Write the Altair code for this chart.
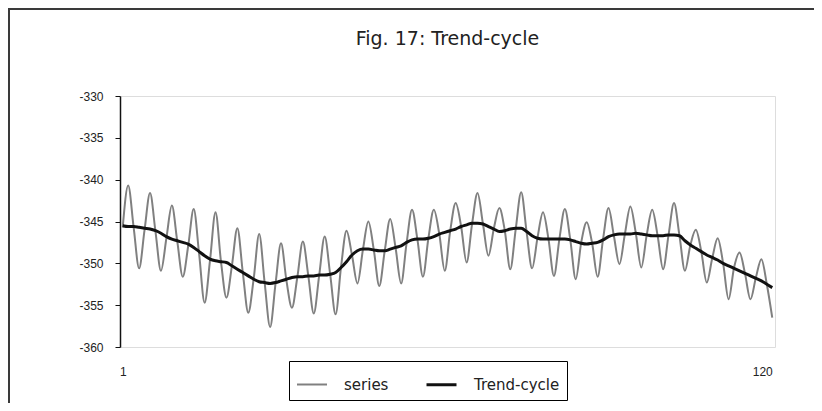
import altair as alt
import pandas as pd

t = list(range(1, 121))

series = [
    -345.7, -340.7, -345.7, -350.6, -346.0, -341.6, -346.2, -350.9,
    -347.0, -343.1, -347.4, -351.6, -347.9, -343.5, -348.9, -354.7,
    -349.6, -343.9, -349.8, -354.1, -350.3, -345.8, -351.1, -355.9,
    -351.8, -346.5, -352.3, -357.6, -352.4, -347.6, -352.1, -355.3,
    -351.6, -347.4, -351.5, -356.0, -351.4, -346.8, -351.3, -356.1,
    -350.4, -346.1, -349.0, -352.4, -348.4, -345.0, -348.4, -352.7,
    -348.5, -344.7, -348.2, -352.4, -347.6, -343.6, -347.2, -351.6,
    -347.0, -343.6, -346.5, -350.9, -346.1, -342.8, -345.6, -349.9,
    -345.3, -341.6, -345.3, -349.1, -345.8, -343.4, -346.1, -350.7,
    -345.9, -341.5, -346.3, -350.6, -346.9, -343.9, -347.1, -351.5,
    -347.1, -343.5, -347.2, -351.9, -347.5, -345.1, -347.6, -351.6,
    -347.1, -343.4, -346.8, -350.1, -346.5, -343.2, -346.4, -350.5,
    -346.6, -343.6, -346.7, -350.7, -346.6, -342.8, -346.7, -350.9,
    -347.8, -346.0, -348.6, -352.3, -349.4, -347.0, -350.0, -354.3,
    -350.5, -348.7, -351.2, -354.3, -351.7, -349.5, -352.5, -356.5,
]

trend = [
    -345.5, -345.6, -345.6, -345.7, -345.8, -345.9, -346.1, -346.4,
    -346.8, -347.1, -347.3, -347.5, -347.7, -348.1, -348.6, -349.1,
    -349.5, -349.7, -349.8, -349.9, -350.3, -350.7, -351.1, -351.5,
    -351.9, -352.2, -352.3, -352.4, -352.3, -352.1, -351.9, -351.7,
    -351.6, -351.6, -351.5, -351.5, -351.4, -351.4, -351.3, -351.1,
    -350.5, -349.8, -349.0, -348.5, -348.3, -348.3, -348.4, -348.5,
    -348.5, -348.3, -348.1, -347.9, -347.5, -347.2, -347.1, -347.1,
    -347.0, -346.8, -346.5, -346.3, -346.1, -345.9, -345.6, -345.4,
    -345.2, -345.2, -345.3, -345.6, -345.9, -346.2, -346.1, -345.9,
    -345.8, -345.8, -346.2, -346.7, -347.0, -347.1, -347.1, -347.1,
    -347.1, -347.1, -347.2, -347.4, -347.6, -347.7, -347.6, -347.5,
    -347.2, -346.8, -346.6, -346.5, -346.5, -346.5, -346.4, -346.5,
    -346.6, -346.7, -346.7, -346.7, -346.6, -346.6, -346.7, -347.3,
    -347.8, -348.2, -348.6, -349.0, -349.3, -349.6, -350.0, -350.3,
    -350.6, -350.9, -351.2, -351.5, -351.8, -352.1, -352.5, -352.9,
]

names = ["series", "Trend-cycle"]
x_labels = [1, 120]
y_ticks = [-360, -355, -350, -345, -340, -335, -330]

df = pd.DataFrame({
    "t": t + t,
    "value": series + trend,
    "name": [names[0]] * len(t) + [names[1]] * len(t),
})

legend = alt.Legend(
    orient="none", legendX=169, legendY=265, direction="horizontal",
    title=None, symbolType="stroke", symbolSize=900,
    labelFont="DejaVu Sans", labelFontSize=15, labelColor="#222222",
    strokeColor="#000000", padding=7, columnPadding=31, labelOffset=16,
)

x_enc = alt.X(
    "t:Q",
    scale=alt.Scale(domain=[0.5, 120.5], nice=False, zero=False),
    axis=alt.Axis(
        values=x_labels, title=None, grid=False, domain=False, ticks=False,
        labelPadding=19, labelFont="Liberation Sans", labelFontSize=12,
        labelColor="#222222",
        labelAlign={"condition": {"test": "datum.value == 120", "value": "right"}, "value": "center"},
    ),
)
y_enc = alt.Y(
    "value:Q",
    scale=alt.Scale(domain=[-360, -330], nice=False, zero=False),
    axis=alt.Axis(
        values=y_ticks, title=None, grid=False, tickSize=5, tickColor="#111111",
        domainColor="#111111", domainWidth=1.5, labelPadding=12,
        labelFont="Liberation Sans", labelFontSize=12, labelColor="#222222",
        labelExpr="toString(datum.value)",
    ),
)
color_enc = alt.Color(
    "name:N",
    scale=alt.Scale(domain=names, range=["#808080", "#111111"]),
    legend=legend,
)
width_enc = alt.StrokeWidth(
    "name:N",
    scale=alt.Scale(domain=names, range=[2, 3]),
    legend=legend,
)

base = alt.Chart(df).mark_line(interpolate="monotone").encode(
    x=x_enc, y=y_enc, color=color_enc, strokeWidth=width_enc
)
series_layer = base.transform_filter(alt.datum.name == "series")
trend_layer = base.transform_filter(alt.datum.name == "Trend-cycle")

frame = alt.Chart(pd.DataFrame({"k": [0]})).mark_rect(
    filled=False, stroke="#3a3a3a", strokeWidth=2, clip=False
).encode(
    x=alt.value(-111), x2=alt.value(720),
    y=alt.value(-87), y2=alt.value(340),
)

chart = alt.layer(frame, series_layer, trend_layer).properties(
    width=655,
    height=251,
    autosize=alt.AutoSizeParams(type="none"),
    padding={"left": 112, "top": 88, "right": 39, "bottom": 56},
    title=alt.TitleParams(
        "Fig. 17: Trend-cycle", font="DejaVu Sans", fontSize=19,
        fontWeight="normal", color="#222222", anchor="middle",
        frame="group", baseline="alphabetic", offset=-56,
    ),
).configure_view(
    stroke="#a0a0a0", strokeWidth=2
).configure(background="white")

chart.save("out.html", embed_options={"renderer": "svg", "actions": False})
